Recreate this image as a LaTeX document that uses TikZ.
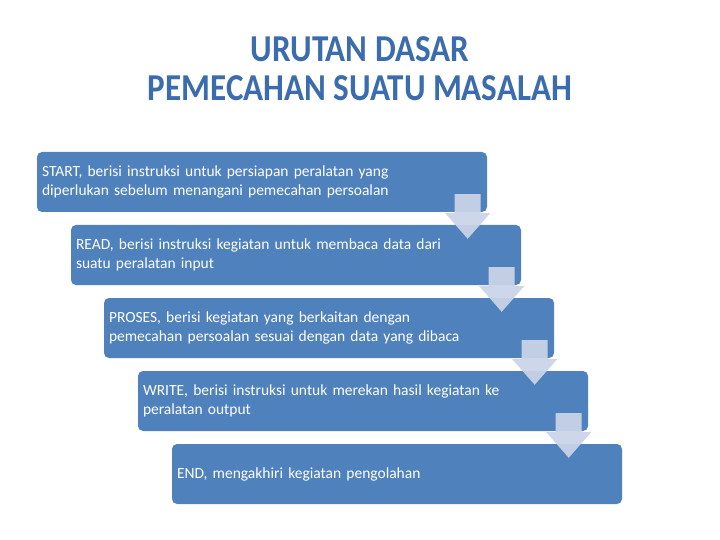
\documentclass[tikz,border=0pt]{standalone}
\usepackage{fontspec}
\setmainfont{Carlito}
\usetikzlibrary{calc}
\definecolor{boxblue}{HTML}{4F81BD}
\definecolor{arrowgray}{HTML}{CAD4E8}
\definecolor{titleblue}{HTML}{3A6CAE}

\begin{document}
\begin{tikzpicture}[x=1pt,y=-1pt,
    stepbox/.style={rectangle,rounded corners=5pt,fill=boxblue,text=white,
      minimum width=450pt,minimum height=60pt,text width=440pt,inner xsep=5pt,
      align=left,font=\fontsize{15.5}{19}\selectfont},
    title/.style={anchor=base,text=titleblue,font=\fontsize{38}{39}\selectfont\bfseries},
    downarrow/.style={fill=arrowgray,fill opacity=0.93},
    ]
    \useasboundingbox (0,0) rectangle (720,540);
    \node[title] (t1) at (360,62) {\scalebox{0.87}[1]{URUTAN DASAR}};
    \node[title] (t2) at (360,101) {\scalebox{0.87}[1]{PEMECAHAN SUATU MASALAH}};
    \node[stepbox] (b1) at (262,182) {START, berisi instruksi untuk persiapan peralatan yang\\diperlukan sebelum menangani pemecahan persoalan};
    \node[stepbox] (b2) at (296,255) {READ, berisi instruksi kegiatan untuk membaca data dari\\suatu peralatan input};
    \node[stepbox] (b3) at (329,328) {PROSES, berisi kegiatan yang berkaitan dengan\\pemecahan persoalan sesuai dengan data yang dibaca};
    \node[stepbox] (b4) at (363,401) {WRITE, berisi instruksi untuk merekan hasil kegiatan ke\\peralatan output};
    \node[stepbox] (b5) at (397,474) {END, mengakhiri kegiatan pengolahan};
    % arrows between the steps
    \foreach \a/\b in {b1/b2,b2/b3,b3/b4,b4/b5}{
      \coordinate (c) at ($(\a.south east)+(-19.5,0)$);
      \fill[downarrow] ($(c)+(-13,-18)$) -- ++(26,0) -- ++(0,19) -- ++(9.5,0)
        -- ($(c |- \b.north)+(0,14)$) -- ($(c)+(-22.5,1)$) -- ++(9.5,0) -- cycle;
    }
\end{tikzpicture}
\end{document}
